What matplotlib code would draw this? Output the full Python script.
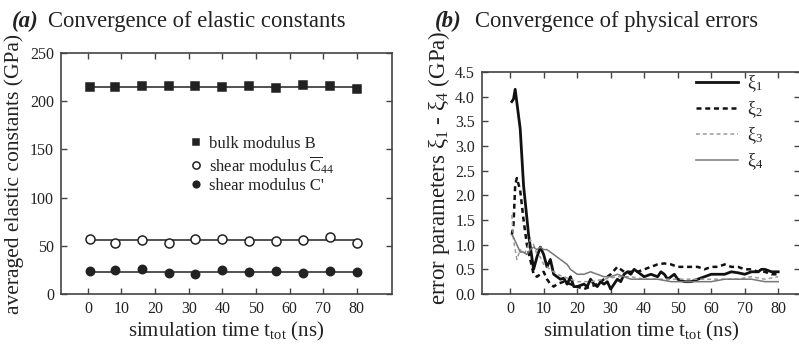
import numpy as np
import matplotlib
matplotlib.use("Agg")
import matplotlib.pyplot as plt

plt.rcParams['font.family'] = ['Liberation Serif', 'DejaVu Serif']
plt.rcParams['mathtext.fontset'] = 'custom'
plt.rcParams['mathtext.rm'] = 'Liberation Serif'
plt.rcParams['mathtext.it'] = 'Liberation Serif:italic'
plt.rcParams['mathtext.bf'] = 'Liberation Serif:bold'

# ---------------- data (a) ----------------
t_a = [0.5, 8, 16, 24, 32, 40, 48, 56, 64, 72, 80]
bulk_B = [214.7, 214.3, 215.4, 216.0, 215.7, 215.0, 215.4, 214.0, 216.4, 215.7, 212.5]
shear_C44 = [56.8, 53.3, 56.1, 53.3, 57.5, 56.8, 54.7, 55.4, 56.4, 59.2, 53.0]
shear_Cp = [23.9, 24.6, 25.6, 21.5, 20.4, 24.9, 22.9, 23.5, 21.8, 23.5, 22.9]

# ---------------- data (b) ----------------
t1 = [0.5, 1, 1.5, 3, 4, 5.5, 7, 8, 9, 10, 11, 12, 13, 14, 15, 16, 17, 18, 19, 20, 22, 23, 24, 25, 26,
      27, 28, 29, 30, 31, 32, 33, 34, 35, 36, 37, 38, 39, 40, 42, 44, 45, 46, 47, 48, 49, 50, 52,
      54, 56, 58, 60, 62, 64, 66, 68, 70, 72, 74, 75, 76, 78, 80]
xi1 = [3.9, 3.95, 4.15, 3.35, 2.2, 1.2, 0.5, 0.75, 0.95, 0.8, 0.55, 0.7, 0.4, 0.35, 0.3, 0.32, 0.2, 0.35, 0.15, 0.15,
       0.2, 0.15, 0.3, 0.2, 0.15, 0.25, 0.2, 0.25, 0.1, 0.2, 0.3, 0.25, 0.4, 0.45, 0.4, 0.5, 0.45, 0.4, 0.35,
       0.4, 0.35, 0.45, 0.4, 0.3, 0.35, 0.4, 0.3, 0.25, 0.25, 0.3, 0.35, 0.4, 0.4, 0.4, 0.45, 0.43, 0.4,
       0.45, 0.45, 0.5, 0.5, 0.45, 0.45]

t2 = [0.5, 1, 1.5, 2, 3, 4, 5, 6, 7, 8, 9, 10, 11, 12, 13, 14, 16, 18, 20, 22, 24, 26, 28, 30, 32, 34,
      36, 38, 40, 42, 44, 46, 48, 50, 52, 54, 56, 58, 60, 62, 64, 66, 68, 70, 72, 74, 76, 78, 80]
xi2 = [1.2, 1.4, 2.2, 2.35, 2.1, 1.5, 1.0, 0.7, 0.4, 0.35, 0.4, 0.45, 0.3, 0.2, 0.15, 0.2, 0.25, 0.2, 0.15,
       0.1, 0.15, 0.2, 0.3, 0.4, 0.55, 0.45, 0.45, 0.45, 0.5, 0.55, 0.6, 0.62, 0.6, 0.55, 0.55, 0.55, 0.55,
       0.5, 0.55, 0.55, 0.6, 0.55, 0.55, 0.5, 0.5, 0.45, 0.45, 0.4, 0.4]

t3 = [0.5, 1, 2, 3, 4, 5, 6, 7, 8, 9, 10, 12, 14, 16, 18, 20, 24, 28, 32, 36, 40, 44, 48, 52, 56, 60,
      64, 68, 72, 76, 80]
xi3 = [1.6, 1.1, 0.7, 0.9, 0.8, 0.9, 1.1, 1.0, 0.8, 0.75, 0.6, 0.5, 0.4, 0.35, 0.3, 0.25, 0.25, 0.3, 0.35,
       0.35, 0.3, 0.3, 0.3, 0.3, 0.3, 0.3, 0.3, 0.3, 0.35, 0.3, 0.35]

t4 = [0.5, 1, 2, 3, 4, 5, 6, 7, 8, 9, 10, 11, 12, 13, 14, 15, 16, 17, 18, 19, 20, 22, 24, 26, 28, 30,
      32, 34, 36, 40, 44, 48, 52, 56, 60, 64, 68, 72, 76, 80]
xi4 = [1.2, 1.15, 1.0, 0.85, 0.85, 0.8, 0.9, 0.95, 0.9, 0.95, 0.9, 0.9, 0.85, 0.8, 0.75, 0.7, 0.65, 0.6,
       0.5, 0.45, 0.4, 0.4, 0.45, 0.4, 0.35, 0.35, 0.4, 0.35, 0.3, 0.3, 0.3, 0.25, 0.25, 0.25, 0.25, 0.3,
       0.3, 0.3, 0.25, 0.25]

W, H = 799, 347
fig = plt.figure(figsize=(W / 100, H / 100), dpi=100)

TXT = '#222222'
SP = '#444444'


def style(ax):
    for s in ax.spines.values():
        s.set_color(SP)
        s.set_linewidth(1.2)
    ax.tick_params(direction='in', top=True, right=True, length=4, width=1,
                   color=SP, labelcolor=TXT, pad=5, labelsize=11.5)


# ---------- panel (a) ----------
ax1 = fig.add_axes([61 / W, 1 - 294 / H, (392 - 61) / W, (294 - 53) / H])
style(ax1)
for vals, mk, fc, ms, lab in [
        (bulk_B, 's', '#222222', 6, 'bulk modulus B'),
        (shear_C44, 'o', 'white', 6.5, r'shear modulus $\overline{\mathrm{C}}_{44}$'),
        (shear_Cp, 'o', '#222222', 6, "shear modulus C'")]:
    m = np.mean(vals)
    ax1.plot([t_a[0], t_a[-1]], [m, m], color='#333333', lw=1.2, zorder=2)
    ax1.plot(t_a, vals, linestyle='none', marker=mk, ms=ms, mfc=fc, mec='#222222',
             mew=1.1, zorder=3, label=lab)
ax1.set_xlim(-8, 90.5)
ax1.set_ylim(0, 250)
ax1.set_xticks(np.arange(0, 81, 10))
ax1.set_yticks(np.arange(0, 251, 50))
ax1.set_xlabel(r'simulation time t$_{\mathrm{tot}}$ (ns)', fontsize=15, color=TXT, labelpad=2)
ax1.set_ylabel('averaged elastic constants (GPa)', fontsize=15.5, color=TXT, labelpad=4)
ax1.legend(loc='upper left', bbox_to_anchor=(0.367, 0.69), frameon=False, fontsize=12,
           handlelength=0.6, handletextpad=0.5, labelspacing=0.12, borderpad=0,
           labelcolor=TXT, markerscale=0.8)

fig.text(12 / W, 1 - 27 / H, '(a)', fontsize=16.5, fontweight='bold', fontstyle='italic', color=TXT)
fig.text(48 / W, 1 - 27 / H, 'Convergence of elastic constants', fontsize=16.3, color=TXT)

# ---------- panel (b) ----------
ax2 = fig.add_axes([482 / W, 1 - 294 / H, (800 - 482) / W, (294 - 72) / H])
style(ax2)
ax2.plot(t1, xi1, color='#111111', lw=2.0, label=r'ξ$_1$')
ax2.plot(t2, xi2, color='#111111', lw=1.8, ls=(0, (2, 1.5)), label=r'ξ$_2$')
ax2.plot(t3, xi3, color='#9a9a9a', lw=1.1, ls=(0, (2.5, 2)), label=r'ξ$_3$')
ax2.plot(t4, xi4, color='#777777', lw=1.1, label=r'ξ$_4$')
ax2.set_xlim(-8.4, 86.5)
ax2.set_ylim(0, 4.5)
ax2.set_xticks(np.arange(0, 81, 10))
ax2.set_yticks(np.arange(0, 4.51, 0.5))
ax2.set_yticklabels([f'{v:.1f}' for v in np.arange(0, 4.51, 0.5)])
ax2.set_xlabel(r'simulation time t$_{\mathrm{tot}}$ (ns)', fontsize=15, color=TXT, labelpad=2)
ax2.set_ylabel(r'error parameters ξ$_1$ - ξ$_4$ (GPa)', fontsize=16.5, color=TXT)
ax2.yaxis.set_label_coords(-0.095, 0.57)
ax2.legend(loc='upper left', bbox_to_anchor=(0.645, 1.035), frameon=False, fontsize=13,
           handlelength=2.3, handletextpad=0.5, labelspacing=0.3, borderpad=0, labelcolor=TXT)

fig.text(435 / W, 1 - 27 / H, '(b)', fontsize=16.5, fontweight='bold', fontstyle='italic', color=TXT)
fig.text(475 / W, 1 - 27 / H, 'Convergence of physical errors', fontsize=16.3, color=TXT)

fig.savefig('out.png', dpi=100)
